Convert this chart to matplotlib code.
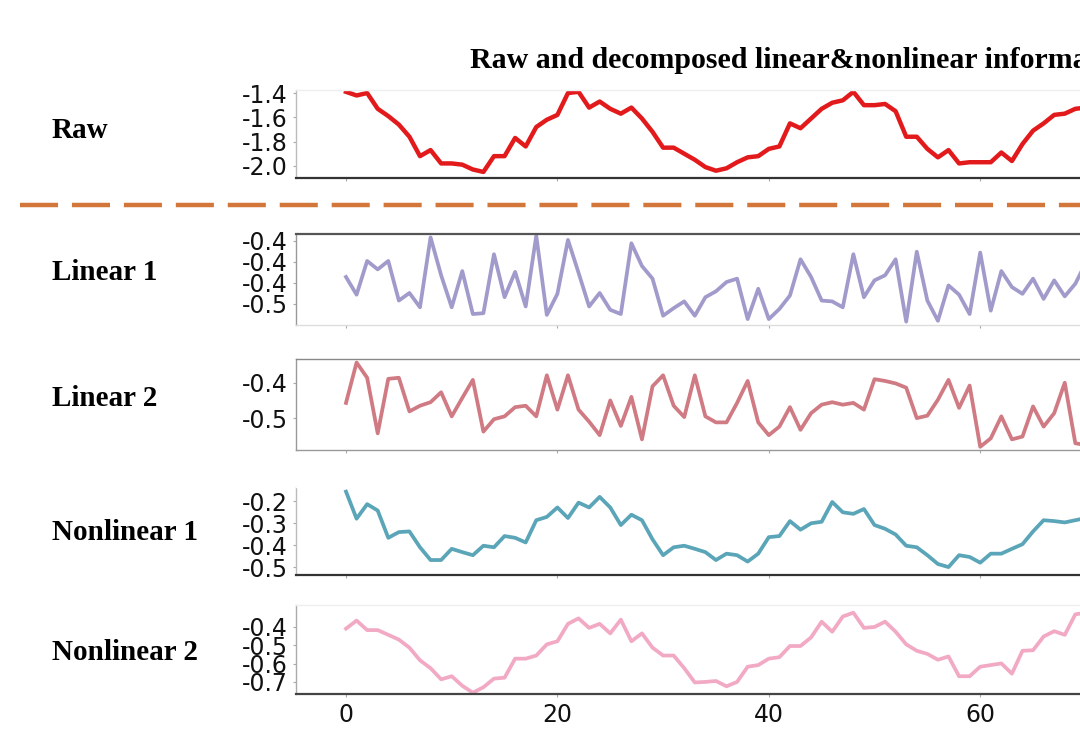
import matplotlib
matplotlib.use("Agg")
import matplotlib.pyplot as plt
import numpy as np
from matplotlib.lines import Line2D

# values (x = 0..71, the rest of the series is cut off)
raw = [-1.39, -1.42, -1.40, -1.53, -1.59, -1.66, -1.76, -1.92, -1.87, -1.98,
       -1.98, -1.99, -2.03, -2.05, -1.92, -1.92, -1.77, -1.84, -1.68, -1.62,
       -1.58, -1.40, -1.39, -1.52, -1.47, -1.53, -1.57, -1.52, -1.61, -1.72,
       -1.85, -1.85, -1.90, -1.95, -2.01, -2.04, -2.02, -1.97, -1.93, -1.92,
       -1.86, -1.84, -1.65, -1.69, -1.61, -1.53, -1.48, -1.46, -1.39, -1.50,
       -1.50, -1.49, -1.55, -1.76, -1.76, -1.86, -1.93, -1.87, -1.98, -1.97,
       -1.97, -1.97, -1.89, -1.96, -1.82, -1.71, -1.65, -1.58, -1.57, -1.53,
       -1.52, -1.50]
linear1 = [-0.418, -0.439, -0.399, -0.409, -0.399, -0.446, -0.437, -0.454, -0.371, -0.416,
           -0.454, -0.411, -0.462, -0.461, -0.391, -0.442, -0.412, -0.453, -0.369, -0.463,
           -0.438, -0.374, -0.413, -0.453, -0.437, -0.457, -0.462, -0.378, -0.405, -0.420,
           -0.464, -0.455, -0.447, -0.464, -0.442, -0.435, -0.424, -0.420, -0.468, -0.432,
           -0.468, -0.456, -0.440, -0.397, -0.418, -0.446, -0.447, -0.454, -0.391, -0.442,
           -0.422, -0.416, -0.397, -0.471, -0.388, -0.446, -0.470, -0.428, -0.439, -0.462,
           -0.389, -0.458, -0.411, -0.430, -0.438, -0.420, -0.444, -0.422, -0.441, -0.426,
           -0.401, -0.380]
linear2 = [-0.457, -0.343, -0.386, -0.543, -0.389, -0.386, -0.481, -0.465, -0.455, -0.427,
           -0.495, -0.443, -0.392, -0.538, -0.503, -0.495, -0.469, -0.465, -0.495, -0.379,
           -0.476, -0.379, -0.476, -0.510, -0.548, -0.450, -0.522, -0.440, -0.560, -0.410,
           -0.379, -0.465, -0.497, -0.379, -0.495, -0.512, -0.512, -0.457, -0.395, -0.512,
           -0.548, -0.524, -0.469, -0.533, -0.486, -0.462, -0.455, -0.462, -0.457, -0.476,
           -0.390, -0.395, -0.402, -0.414, -0.500, -0.493, -0.448, -0.392, -0.471, -0.408,
           -0.581, -0.557, -0.495, -0.560, -0.552, -0.467, -0.524, -0.486, -0.400, -0.571,
           -0.576, -0.550]
nonlinear1 = [-0.157, -0.280, -0.214, -0.243, -0.367, -0.341, -0.338, -0.410, -0.468, -0.468,
              -0.417, -0.432, -0.446, -0.403, -0.410, -0.359, -0.367, -0.388, -0.287, -0.272,
              -0.229, -0.277, -0.207, -0.229, -0.181, -0.229, -0.309, -0.262, -0.287, -0.374,
              -0.446, -0.410, -0.403, -0.417, -0.432, -0.468, -0.439, -0.446, -0.475, -0.439,
              -0.364, -0.359, -0.291, -0.330, -0.301, -0.294, -0.204, -0.251, -0.258, -0.236,
              -0.309, -0.326, -0.352, -0.403, -0.410, -0.446, -0.486, -0.500, -0.446, -0.454,
              -0.480, -0.439, -0.439, -0.417, -0.396, -0.338, -0.287, -0.291, -0.297, -0.287,
              -0.277, -0.270]
nonlinear2 = [-0.409, -0.365, -0.417, -0.417, -0.443, -0.469, -0.513, -0.582, -0.625, -0.686,
              -0.669, -0.721, -0.759, -0.729, -0.682, -0.677, -0.573, -0.573, -0.556, -0.495,
              -0.478, -0.383, -0.353, -0.405, -0.383, -0.435, -0.360, -0.478, -0.435, -0.513,
              -0.556, -0.556, -0.625, -0.703, -0.700, -0.695, -0.724, -0.700, -0.617, -0.608,
              -0.573, -0.565, -0.504, -0.504, -0.457, -0.371, -0.426, -0.343, -0.322, -0.405,
              -0.400, -0.371, -0.426, -0.495, -0.530, -0.547, -0.579, -0.561, -0.669, -0.669,
              -0.617, -0.608, -0.599, -0.655, -0.530, -0.527, -0.452, -0.423, -0.443, -0.331,
              -0.322, -0.350]

row_names = ["Raw", "Linear 1", "Linear 2", "Nonlinear 1", "Nonlinear 2"]
series = [raw, linear1, linear2, nonlinear1, nonlinear2]
colors = ["#e31a1c", "#a09bcb", "#d07a83", "#5ba5b9", "#f2aac4"]
widths = [3.2, 2.7, 2.7, 2.7, 2.7]

yticks = [[-1.4, -1.6, -1.8, -2.0],
          [-0.375, -0.4, -0.425, -0.45],
          [-0.4, -0.5],
          [-0.2, -0.3, -0.4, -0.5],
          [-0.4, -0.5, -0.6, -0.7]]
ytick_labels = [["-1.4", "-1.6", "-1.8", "-2.0"],
                ["-0.4", "-0.4", "-0.4", "-0.5"],
                ["-0.4", "-0.5"],
                ["-0.2", "-0.3", "-0.4", "-0.5"],
                ["-0.4", "-0.5", "-0.6", "-0.7"]]
ylims = [(-2.10, -1.375), (-0.475, -0.367), (-0.59, -0.333),
         (-0.536, -0.136), (-0.766, -0.28)]
xticks = [0, 20, 40, 60]

W, H = 1080, 744
fig = plt.figure(figsize=(W / 100, H / 100), dpi=100)

# axes boxes in pixels (top, bottom) - they run off the right edge like the source
boxes = [(90, 178), (234, 325), (359, 450), (487, 575), (605, 694)]
label_y = [131, 273, 399, 532, 652]
left_px = 296
x0_px, px_per = 346, 10.57
xmin = -(x0_px - left_px) / px_per
xmax = 98.73
width_px = (xmax - xmin) * px_per

# spine colours per panel (top, bottom, left)
spine_cols = [("#eeeeee", "#333333", "#bbbbbb"),
              ("#555555", "#dddddd", "#999999"),
              ("#888888", "#999999", "#999999"),
              ("#ffffff", "#333333", "#bbbbbb"),
              ("#eeeeee", "#444444", "#aaaaaa")]

x = np.arange(len(raw))
for k in range(5):
    top, bot = boxes[k]
    ax = fig.add_axes([left_px / W, 1 - bot / H, width_px / W, (bot - top) / H])
    ax.plot(x, series[k], color=colors[k], lw=widths[k], solid_joinstyle="round")
    ax.set_xlim(xmin, xmax)
    ax.set_ylim(*ylims[k])
    ax.set_yticks(yticks[k])
    ax.set_yticklabels(ytick_labels[k])
    ax.set_xticks(xticks)
    if k < 4:
        ax.set_xticklabels([])
    ax.tick_params(axis="both", labelsize=17, length=2.5, width=0.8,
                   color="#aaaaaa", labelcolor="#111111")
    ax.tick_params(axis="y", pad=3.5)
    ax.tick_params(axis="x", pad=4)
    t, b, l = spine_cols[k]
    ax.spines["top"].set_color(t)
    ax.spines["bottom"].set_color(b)
    ax.spines["left"].set_color(l)
    ax.spines["right"].set_visible(False)
    ax.spines["bottom"].set_linewidth(1.6 if b in ("#333333", "#444444") else 1.0)
    ax.spines["top"].set_linewidth(1.6 if t == "#555555" else 1.0)
    ax.spines["left"].set_linewidth(1.0)
    fig.text(52 / W, 1 - label_y[k] / H, row_names[k], ha="left", va="center",
             fontsize=21, fontweight="bold", family="Liberation Serif")

fig.text(470 / W, 1 - 60 / H, "Raw and decomposed linear&nonlinear information",
         ha="left", va="center", fontsize=21.5, fontweight="bold",
         family="Liberation Serif")

# dashed separator between raw and decomposed parts
sep = Line2D([20 / W, 1.0], [1 - 205 / H, 1 - 205 / H], transform=fig.transFigure,
             color="#d2763a", lw=3.2, linestyle=(0, (27.4 / 3.2, 10 / 3.2)))
fig.add_artist(sep)

fig.savefig("out.png", dpi=100)
